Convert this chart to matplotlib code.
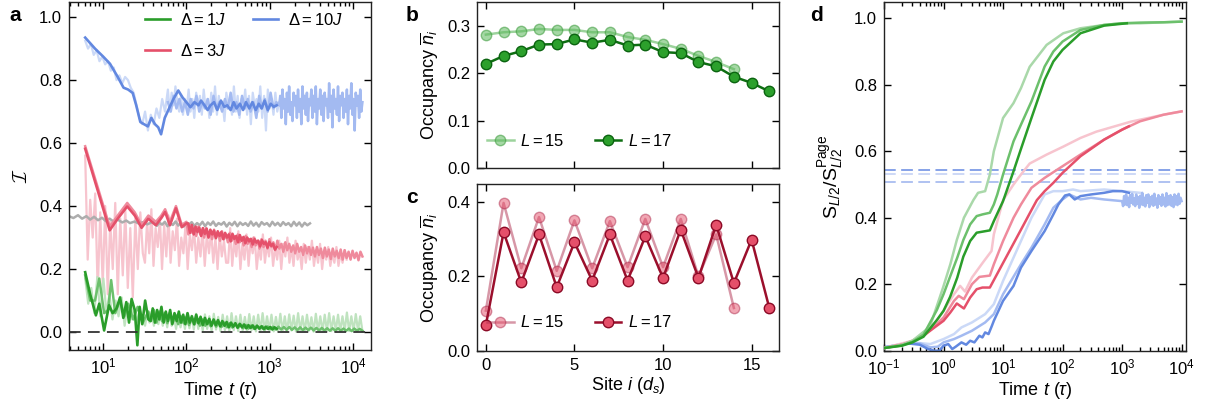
import numpy as np
import matplotlib
matplotlib.use("Agg")
import matplotlib.pyplot as plt
from matplotlib.lines import Line2D

plt.rcParams['font.family'] = ['Liberation Sans', 'DejaVu Sans']
plt.rcParams['mathtext.fontset'] = 'custom'
plt.rcParams['mathtext.rm'] = 'Liberation Sans'
plt.rcParams['mathtext.it'] = 'Liberation Sans:italic'
plt.rcParams['mathtext.bf'] = 'Liberation Sans:bold'
plt.rcParams['axes.linewidth'] = 1.0

# ---------------- panel a : imbalance vs time ----------------
a_gray_t = [3.9, 4.4, 5.0, 5.6, 6.3, 7.0, 7.8, 8.7, 9.7, 10.8, 12, 13.5, 15, 17, 19, 21, 24, 27, 30, 34, 38]
a_gray_v = [0.368, 0.362, 0.371, 0.360, 0.368, 0.357, 0.366, 0.355, 0.363, 0.352, 0.360, 0.350, 0.357,
            0.348, 0.354, 0.346, 0.351, 0.344, 0.349, 0.342, 0.348]
a_gray_tail = [0.340, 0.349, 0.337, 0.347, 0.341, 0.350, 0.336, 0.346, 0.340, 0.351,
               0.338, 0.347, 0.335, 0.348, 0.341, 0.349, 0.337, 0.346, 0.339, 0.350,
               0.336, 0.348, 0.340, 0.351, 0.337, 0.346, 0.341, 0.349, 0.335, 0.347,
               0.339, 0.350, 0.336, 0.348, 0.340, 0.346, 0.337, 0.351, 0.338, 0.347,
               0.335, 0.349, 0.341, 0.346, 0.336, 0.350, 0.339, 0.347, 0.337, 0.349,
               0.340, 0.346, 0.336, 0.350, 0.338, 0.348, 0.335, 0.347, 0.339, 0.345]

a_blue_dark_t = [6.1, 8, 10, 12.1, 15, 17.6, 20, 22.7, 25, 28, 31, 34.5, 38, 42, 46, 49.7, 55, 63, 70, 80,
                 90, 100, 112, 125, 140, 150, 165, 180, 195, 215, 235, 260, 285, 310, 340, 370, 400, 440,
                 480, 520, 570, 620, 680, 740, 800, 870, 950, 1030, 1120, 1216]
a_blue_dark_v = [0.935, 0.90, 0.875, 0.852, 0.81, 0.776, 0.77, 0.759, 0.72, 0.667,
                 0.66, 0.653, 0.68, 0.66, 0.65, 0.628, 0.68, 0.714, 0.74, 0.767,
                 0.745, 0.73, 0.714, 0.73, 0.72, 0.735, 0.72, 0.705, 0.72, 0.73,
                 0.705, 0.735, 0.715, 0.72, 0.705, 0.73, 0.71, 0.725, 0.705, 0.73,
                 0.71, 0.73, 0.705, 0.725, 0.71, 0.735, 0.705, 0.725, 0.715, 0.72]
a_blue_light_early = [0.925, 0.90, 0.915, 0.88, 0.895, 0.86, 0.875, 0.85, 0.86, 0.83,
                      0.84, 0.80, 0.815, 0.79, 0.81, 0.80, 0.775, 0.76, 0.72, 0.68,
                      0.66, 0.70, 0.64, 0.69, 0.66, 0.71, 0.68, 0.74, 0.70, 0.77]
a_blue_light_late = [0.74, 0.70, 0.76, 0.72, 0.78, 0.73, 0.70, 0.75, 0.69, 0.74,
                     0.71, 0.77, 0.70, 0.74, 0.68, 0.76, 0.72, 0.75, 0.69, 0.77,
                     0.71, 0.74, 0.68, 0.76, 0.70, 0.78, 0.69, 0.75, 0.71, 0.73,
                     0.67, 0.76, 0.72, 0.74, 0.69, 0.78, 0.70, 0.75, 0.68, 0.74,
                     0.71, 0.77, 0.69, 0.75, 0.66, 0.76, 0.72, 0.74, 0.70, 0.78,
                     0.68, 0.75, 0.64, 0.77, 0.71, 0.74, 0.69, 0.76, 0.70, 0.73]
a_blue_mid_a = [0.73, 0.70, 0.75, 0.71, 0.74, 0.70, 0.73, 0.69, 0.74, 0.71,
                0.75, 0.70, 0.73, 0.71, 0.74, 0.69, 0.75, 0.71, 0.73, 0.70,
                0.74, 0.71, 0.76, 0.70, 0.73, 0.69, 0.75, 0.71, 0.74, 0.70,
                0.73, 0.68, 0.75, 0.71, 0.74, 0.70, 0.76, 0.71, 0.73, 0.72]
a_blue_mid_b = [0.70, 0.75, 0.68, 0.77, 0.71, 0.74, 0.66, 0.76, 0.70, 0.78,
                0.69, 0.73, 0.67, 0.76, 0.72, 0.75, 0.68, 0.77, 0.70, 0.74,
                0.66, 0.78, 0.71, 0.75, 0.69, 0.76, 0.67, 0.74, 0.72, 0.77,
                0.68, 0.75, 0.70, 0.78, 0.66, 0.74, 0.71, 0.77, 0.69, 0.75,
                0.67, 0.76, 0.72, 0.74, 0.68, 0.79, 0.70, 0.75, 0.65, 0.77,
                0.71, 0.74, 0.69, 0.78, 0.67, 0.75, 0.72, 0.76, 0.68, 0.74,
                0.70, 0.77, 0.66, 0.75, 0.71, 0.79, 0.69, 0.74, 0.64, 0.76,
                0.72, 0.75, 0.68, 0.77, 0.70, 0.73]

a_red_dark_t = [6.1, 12, 15, 19.5, 24, 29, 35, 43, 50, 55.6, 63.5, 75, 88, 100]
a_red_dark_v = [0.582, 0.323, 0.36, 0.399, 0.37, 0.331, 0.36, 0.339, 0.362, 0.381, 0.339, 0.393, 0.333, 0.345]
a_red_dark_tail = [0.325, 0.345, 0.315, 0.340, 0.310, 0.335, 0.318, 0.332, 0.305, 0.330,
                   0.312, 0.328, 0.300, 0.325, 0.310, 0.322, 0.298, 0.320, 0.305, 0.318,
                   0.295, 0.315, 0.300, 0.310, 0.288, 0.312, 0.296, 0.305, 0.285, 0.308,
                   0.290, 0.302, 0.282, 0.300, 0.288, 0.296, 0.278, 0.295, 0.284, 0.290,
                   0.272, 0.292, 0.280, 0.285, 0.268, 0.286, 0.274, 0.280, 0.262, 0.270]
a_red_mid_v = [0.59, 0.335, 0.37, 0.41, 0.38, 0.34, 0.37, 0.35, 0.37, 0.39, 0.35, 0.40, 0.34, 0.35]
a_red_mid_tail = [0.335, 0.31, 0.34, 0.315, 0.33, 0.305, 0.335, 0.31, 0.325, 0.30,
                  0.33, 0.305, 0.32, 0.295, 0.325, 0.30, 0.315, 0.29, 0.32, 0.295,
                  0.31, 0.285, 0.315, 0.29, 0.305, 0.28, 0.31, 0.285, 0.30, 0.275,
                  0.305, 0.28, 0.295, 0.27, 0.30, 0.275, 0.29, 0.265, 0.295, 0.27,
                  0.29, 0.265, 0.295, 0.27, 0.285, 0.26, 0.29, 0.265, 0.28, 0.255,
                  0.285, 0.26, 0.28, 0.255, 0.275, 0.25, 0.28, 0.255, 0.27, 0.245,
                  0.275, 0.25, 0.27, 0.245, 0.268, 0.24, 0.27, 0.245, 0.265, 0.235,
                  0.268, 0.24, 0.262, 0.232, 0.265, 0.24, 0.258, 0.235, 0.262, 0.23,
                  0.26, 0.235, 0.255, 0.23, 0.258, 0.235, 0.252, 0.228, 0.255, 0.24]
a_red_light_early = [0.56, 0.23, 0.42, 0.30, 0.44, 0.13, 0.38, 0.15, 0.40, 0.12,
                     0.35, 0.20, 0.41, 0.12, 0.36, 0.18, 0.39, 0.14, 0.33, 0.11,
                     0.36, 0.20, 0.38, 0.25]
a_red_light_mid = [0.38, 0.22, 0.35, 0.25, 0.39, 0.21, 0.33, 0.27, 0.36, 0.20,
                   0.34, 0.24, 0.37, 0.22, 0.32, 0.26, 0.36, 0.21, 0.30, 0.25,
                   0.34, 0.20, 0.31, 0.26, 0.33, 0.22, 0.30, 0.24, 0.33, 0.21,
                   0.31, 0.25, 0.32, 0.22, 0.30, 0.20, 0.31, 0.24, 0.29, 0.22]
a_red_light_late = [0.30, 0.22, 0.33, 0.21, 0.29, 0.24, 0.32, 0.20, 0.28, 0.23,
                    0.31, 0.21, 0.29, 0.25, 0.30, 0.20, 0.27, 0.23, 0.31, 0.22,
                    0.28, 0.24, 0.30, 0.21, 0.27, 0.23, 0.29, 0.20, 0.28, 0.24,
                    0.30, 0.22, 0.27, 0.21, 0.29, 0.23, 0.26, 0.20, 0.28, 0.22,
                    0.27, 0.23, 0.29, 0.21, 0.26, 0.22, 0.28, 0.20, 0.26, 0.23,
                    0.27, 0.21, 0.25, 0.22, 0.27, 0.21, 0.25, 0.22, 0.26, 0.23]

a_green_dark_t = [6.1, 7.0, 8.2, 9.0, 10.3, 11.8, 13.0, 14.5, 16.0, 17.5, 19.0, 20.5, 22.0, 24.0, 25.8,
                  27.5, 29.5, 32.0, 35.0]
a_green_dark_v = [0.190, 0.120, 0.053, 0.090, 0.005, 0.085, 0.060, 0.075, 0.110, 0.045, 0.095, 0.030,
                  0.105, 0.070, -0.042, 0.080, 0.025, 0.100, 0.040]
a_green_dark_tail = [0.085, 0.035, 0.075, 0.030, 0.070, 0.040, 0.080, 0.030, 0.065, 0.035,
                     0.070, 0.025, 0.060, 0.035, 0.065, 0.030, 0.055, 0.025, 0.060, 0.030,
                     0.050, 0.025, 0.055, 0.028, 0.048, 0.022, 0.045, 0.025, 0.042, 0.020,
                     0.040, 0.022, 0.038, 0.018, 0.035, 0.020, 0.032, 0.015, 0.030, 0.017,
                     0.028, 0.014, 0.026, 0.015, 0.024, 0.012, 0.022, 0.013, 0.021, 0.010,
                     0.020, 0.011, 0.018, 0.009, 0.017, 0.010, 0.016, 0.008, 0.015, 0.010]
a_green_mid_t = [6.1, 7, 8, 9, 10.3, 11.5, 12.5, 14, 16, 18, 20, 23, 26, 30, 35]
a_green_mid_v = [0.18, 0.10, 0.10, 0.17, 0.06, 0.07, 0.165, 0.06, 0.10, 0.05, 0.09, 0.04, 0.08, 0.03, 0.065]
a_green_mid_tail = [0.075, 0.035, 0.07, 0.03, 0.065, 0.035, 0.06, 0.028, 0.062, 0.03,
                    0.055, 0.025, 0.05, 0.028, 0.048, 0.022, 0.045, 0.024, 0.042, 0.02,
                    0.04, 0.02, 0.036, 0.018, 0.034, 0.017, 0.032, 0.016, 0.03, 0.015,
                    0.028, 0.014, 0.026, 0.013, 0.024, 0.012, 0.022, 0.011, 0.021, 0.01,
                    0.02, 0.01, 0.019, 0.009, 0.018, 0.009, 0.017, 0.008, 0.017, 0.008,
                    0.016, 0.007, 0.016, 0.007, 0.015, 0.006, 0.015, 0.006, 0.014, 0.006,
                    0.014, 0.005, 0.013, 0.005, 0.013, 0.005, 0.012, 0.004, 0.012, 0.004,
                    0.012, 0.004, 0.011, 0.004, 0.011, 0.003, 0.011, 0.004, 0.01, 0.004]
a_green_light_early = [0.17, 0.09, 0.14, 0.06, 0.175, 0.05, 0.17, 0.06, 0.12, 0.04,
                       0.10, 0.05, 0.11, 0.02, 0.09, 0.04, 0.08, 0.03, 0.07, 0.04]
a_green_light_tail = [0.07, 0.02, 0.06, 0.03, 0.065, 0.02, 0.055, 0.025, 0.06, 0.02,
                      0.055, 0.015, 0.06, 0.02, 0.05, 0.01, 0.058, 0.015, 0.05, 0.01,
                      0.06, 0.012, 0.052, 0.008, 0.058, 0.01, 0.05, 0.005, 0.056, 0.01,
                      0.05, 0.004, 0.058, 0.008, 0.048, 0.003, 0.055, 0.006, 0.05, 0.002,
                      0.06, 0.006, 0.05, 0.003, 0.055, 0.005, 0.048, 0.002, 0.057, 0.006,
                      0.05, 0.002, 0.055, 0.004, 0.06, 0.003, 0.05, 0.005, 0.055, 0.002,
                      0.048, 0.004, 0.058, 0.003, 0.05, 0.002, 0.056, 0.005, 0.052, 0.002,
                      0.06, 0.004, 0.05, 0.002, 0.055, 0.005, 0.047, 0.001, 0.058, 0.004,
                      0.05, 0.002, 0.055, 0.004, 0.06, 0.003, 0.05, 0.005, 0.055, 0.002,
                      0.05, 0.004, 0.062, 0.003, 0.05, 0.002, 0.057, 0.005, 0.05, 0.003]

# ---------------- panels b, c : site occupancies ----------------
sites_15 = list(range(15))
sites_17 = list(range(17))
b_n15 = [0.282, 0.287, 0.289, 0.294, 0.292, 0.292, 0.287, 0.287, 0.277, 0.271, 0.262, 0.252, 0.237, 0.224, 0.209]
b_n17 = [0.220, 0.237, 0.247, 0.261, 0.262, 0.272, 0.265, 0.271, 0.259, 0.261, 0.245, 0.243, 0.224, 0.215,
         0.193, 0.180, 0.162]
c_n15 = [0.108, 0.398, 0.222, 0.360, 0.215, 0.351, 0.222, 0.349, 0.225, 0.355, 0.225, 0.355, 0.200, 0.313, 0.115]
c_n17 = [0.069, 0.319, 0.184, 0.313, 0.171, 0.292, 0.189, 0.313, 0.189, 0.308, 0.196, 0.326, 0.196, 0.339,
         0.182, 0.299, 0.115]

# ---------------- panel d : entanglement entropy ----------------
d_green_dark_t = [0.1, 0.2, 0.3, 0.46, 0.77, 1.0, 1.29, 1.7, 2.15, 2.8, 3.6, 6.0, 7.0, 10, 15, 20, 30, 50, 70,
                  100, 200, 500, 1200]
d_green_dark_s = [0.008, 0.015, 0.025, 0.042, 0.092, 0.12, 0.162, 0.22, 0.283, 0.33, 0.355, 0.362, 0.39, 0.45,
                  0.54, 0.607, 0.70, 0.815, 0.87, 0.905, 0.955, 0.978, 0.985]
d_green_mid_t = [0.1, 0.2, 0.3, 0.46, 0.77, 1.0, 1.29, 1.7, 2.15, 2.8, 3.6, 4.5, 6.0, 7.0, 8.0, 10, 15, 20, 30,
                 50, 70, 100, 200, 500, 1000, 2000, 5000, 10000]
d_green_mid_s = [0.008, 0.016, 0.027, 0.048, 0.122, 0.17, 0.223, 0.28, 0.333, 0.38, 0.405, 0.41, 0.415, 0.44,
                 0.47, 0.53, 0.63, 0.68, 0.75, 0.855, 0.90, 0.93, 0.965, 0.98, 0.985, 0.987, 0.988, 0.99]
d_green_light_t = [0.1, 0.2, 0.3, 0.59, 0.99, 1.3, 1.67, 2.2, 3.17, 3.8, 5.0, 6.0, 7.0, 10, 15, 20, 28, 54, 103,
                   200, 500, 1000, 2000, 5000, 10000]
d_green_light_s = [0.008, 0.018, 0.03, 0.072, 0.192, 0.26, 0.333, 0.40, 0.453, 0.475, 0.48, 0.53, 0.60, 0.70,
                   0.745, 0.79, 0.854, 0.92, 0.955, 0.97, 0.98, 0.985, 0.985, 0.988, 0.99]

d_red_dark_t = [0.1, 0.2, 0.3, 0.46, 0.77, 1.0, 1.3, 1.67, 2.2, 2.8, 3.6, 4.5, 6.0, 10, 20, 30, 37, 50, 70, 100,
                200, 500, 1000, 1300]
d_red_dark_s = [0.008, 0.018, 0.028, 0.045, 0.075, 0.09, 0.115, 0.142, 0.127, 0.16, 0.185, 0.19, 0.19, 0.264,
                0.364, 0.423, 0.453, 0.48, 0.505, 0.535, 0.585, 0.635, 0.665, 0.675]
d_red_mid_t = [0.1, 0.2, 0.3, 0.5, 0.77, 1.0, 1.5, 1.8, 2.2, 3.0, 4.0, 6.0, 7.0, 10, 15, 20, 30, 50, 100, 200,
               500, 1000, 2000, 5000, 10000]
d_red_mid_s = [0.008, 0.018, 0.03, 0.05, 0.08, 0.10, 0.15, 0.165, 0.155, 0.20, 0.222, 0.226, 0.26, 0.33, 0.40,
               0.44, 0.49, 0.52, 0.555, 0.59, 0.635, 0.665, 0.69, 0.71, 0.72]
d_red_light_t = [0.1, 0.3, 0.5, 0.77, 1.0, 1.5, 1.9, 2.3, 3.0, 4.7, 6.4, 7.0, 10, 15, 20, 28, 54, 103, 200, 370,
                 1400, 5000, 10000]
d_red_light_s = [0.008, 0.03, 0.055, 0.09, 0.12, 0.17, 0.195, 0.178, 0.22, 0.268, 0.30, 0.35, 0.453, 0.50, 0.53,
                 0.563, 0.59, 0.614, 0.64, 0.659, 0.689, 0.71, 0.72]

d_blue_dark_t = [0.1, 0.15, 0.25, 0.4, 0.55, 0.7, 0.85, 1.0, 1.2, 1.4, 1.6, 2.0, 2.4, 2.8, 3.3, 4.0, 4.5, 5.0,
                 5.7, 6.5, 7.0, 10, 15, 20, 30, 50, 70, 85, 110, 130, 160, 200, 300, 500, 700, 1000, 1300]
d_blue_dark_s = [0.01, 0.015, 0.022, 0.018, 0.005, 0.0, 0.0, 0.015, 0.02, 0.005, 0.012, 0.025, 0.018, 0.03,
                 0.025, 0.045, 0.04, 0.055, 0.05, 0.075, 0.09, 0.15, 0.195, 0.25, 0.30, 0.36, 0.41, 0.44,
                 0.467, 0.47, 0.455, 0.465, 0.47, 0.475, 0.48, 0.48, 0.475]
d_blue_mid_t = [0.1, 0.2, 0.4, 0.6, 0.8, 1.0, 1.5, 2.0, 3.0, 5.0, 7.0, 10, 20, 30, 50, 70, 100, 130, 200, 300,
                500, 1000]
d_blue_mid_s = [0.01, 0.02, 0.022, 0.01, 0.012, 0.025, 0.035, 0.045, 0.06, 0.085, 0.11, 0.17, 0.26, 0.31, 0.38,
                0.43, 0.455, 0.47, 0.455, 0.46, 0.455, 0.45]
d_blue_mid_tail = [0.45, 0.435, 0.465, 0.44, 0.47, 0.438, 0.46, 0.432, 0.468, 0.445,
                   0.472, 0.44, 0.458, 0.435, 0.47, 0.442, 0.462, 0.43, 0.466, 0.44,
                   0.475, 0.438, 0.46, 0.434, 0.468, 0.445, 0.47, 0.432, 0.462, 0.44,
                   0.466, 0.436, 0.472, 0.44, 0.458, 0.43, 0.468, 0.442, 0.462, 0.436,
                   0.47, 0.44, 0.46, 0.434, 0.474, 0.438, 0.465, 0.44, 0.468, 0.436,
                   0.462, 0.432, 0.47, 0.44, 0.465, 0.438, 0.472, 0.442, 0.46, 0.45]
d_blue_light_t = [0.1, 0.3, 0.6, 1.0, 1.5, 2.0, 3.0, 5.0, 7.0, 10, 20, 30, 50, 70, 100, 150, 200, 500, 1000, 2000]
d_blue_light_s = [0.01, 0.025, 0.02, 0.035, 0.05, 0.07, 0.085, 0.11, 0.14, 0.21, 0.33, 0.40, 0.47, 0.48, 0.48,
                  0.485, 0.48, 0.485, 0.48, 0.475]
d_page_levels = [0.544, 0.532, 0.507]

GREEN = ['#bfe3bf', '#6cc06c', '#2a9d2a']
RED = ['#f7c4ce', '#ef8a9c', '#e5506a']
BLUE = ['#cbd9f7', '#a3baf1', '#6288e0']


def geo(t0, t1, vals):
    # sample times evenly in log t between read-off end points
    return np.geomspace(t0, t1, len(vals))


def style(ax):
    ax.tick_params(which='both', direction='in', top=True, right=True, labelsize=12, width=1)
    ax.tick_params(which='major', length=5, pad=5)
    ax.tick_params(which='minor', length=3)
    for s in ax.spines.values():
        s.set_color('#222222')


fig = plt.figure(figsize=(12.15, 4.18), dpi=100)
ax_a = fig.add_axes([0.0568, 0.1627, 0.2486, 0.8325])
ax_b = fig.add_axes([0.3926, 0.5981, 0.2486, 0.3971])
ax_c = fig.add_axes([0.3926, 0.1610, 0.2486, 0.3988])
ax_d = fig.add_axes([0.7276, 0.1610, 0.2486, 0.8342])

# ---- a
ax = ax_a
ax.plot(np.r_[geo(6.1, 30, a_red_light_early), geo(30, 300, a_red_light_mid)[1:], geo(300, 8400, a_red_light_late)[1:]],
        a_red_light_early + a_red_light_mid[1:] + a_red_light_late[1:], color=RED[0], lw=1.6, zorder=1)
ax.plot(np.r_[geo(6.1, 30, a_green_light_early), geo(30, 13000, a_green_light_tail)[1:]],
        a_green_light_early + a_green_light_tail[1:], color=GREEN[0], lw=1.6, zorder=1)
ax.plot(np.r_[geo(6.1, 60, a_blue_light_early), geo(60, 1300, a_blue_light_late)[1:]],
        a_blue_light_early + a_blue_light_late[1:], color=BLUE[0], lw=1.6, zorder=1)
ax.plot(np.r_[a_gray_t, geo(38, 3050, a_gray_tail)[1:]], a_gray_v + a_gray_tail[1:],
        color='#adadad', lw=1.8, zorder=2)
ax.plot(np.r_[a_red_dark_t, geo(100, 13000, a_red_mid_tail)[1:]], a_red_mid_v + a_red_mid_tail[1:],
        color=RED[1], lw=1.8, zorder=3)
ax.plot(np.r_[a_green_mid_t, geo(35, 13000, a_green_mid_tail)[1:]], a_green_mid_v + a_green_mid_tail[1:],
        color=GREEN[1], lw=1.8, zorder=3)
ax.plot(np.r_[geo(60, 1300, a_blue_mid_a), geo(1300, 13000, a_blue_mid_b)[1:]],
        a_blue_mid_a + a_blue_mid_b[1:], color=BLUE[1], lw=1.8, zorder=3)
ax.plot(np.r_[a_red_dark_t, geo(100, 1216, a_red_dark_tail)[1:]], a_red_dark_v + a_red_dark_tail[1:],
        color=RED[2], lw=1.9, zorder=4)
ax.plot(np.r_[a_green_dark_t, geo(35, 1216, a_green_dark_tail)[1:]], a_green_dark_v + a_green_dark_tail[1:],
        color=GREEN[2], lw=1.9, zorder=4)
ax.plot(a_blue_dark_t, a_blue_dark_v, color=BLUE[2], lw=1.9, zorder=4)
ax.axhline(0, color='#333333', lw=1.3, dashes=(6.5, 4), zorder=5)
ax.set_xscale('log')
ax.set_xlim(3.9, 1.65e4)
ax.set_ylim(-0.057, 1.048)
ax.set_yticks([0, 0.2, 0.4, 0.6, 0.8, 1.0])
ax.set_xticks([10, 100, 1000, 10000])
ax.set_xlabel(r'Time $t$ ($\tau$)', fontsize=13, labelpad=2)
ax.set_ylabel(r'$\mathcal{I}$', fontsize=14, math_fontfamily='cm', labelpad=6)
style(ax)
handles = [Line2D([], [], color=GREEN[2], lw=1.9), Line2D([], [], color=RED[2], lw=1.9),
           Line2D([], [], color=BLUE[2], lw=1.9)]
ax.legend(handles, [r'$\Delta=1J$', r'$\Delta=3J$', r'$\Delta=10J$'], ncol=2, loc='upper left',
          bbox_to_anchor=(0.22, 1.0), frameon=False, fontsize=12, handlelength=1.5, handletextpad=0.6,
          columnspacing=1.6, labelspacing=0.9, borderaxespad=0.2)

# ---- b
ax = ax_b
ax.plot(sites_15, b_n15, '-o', color='#4caf4c', mfc='#5cb85c', mec='#3a9a3a', ms=7.5, lw=1.8, alpha=0.55,
        label=r'$L=15$')
ax.plot(sites_17, b_n17, '-o', color='#0e6e12', mfc='#2ca02c', mec='#0b6410', ms=7.5, lw=1.8, mew=1.0,
        label=r'$L=17$')
ax.set_xlim(-0.5, 16.55)
ax.set_ylim(0, 0.351)
ax.set_xticks([0, 5, 10, 15])
ax.set_xticklabels([])
ax.set_yticks([0, 0.1, 0.2, 0.3])
ax.set_ylabel(r'Occupancy $\overline{n}_i$', fontsize=13, labelpad=4)
style(ax)
ax.legend(ncol=2, loc='center left', bbox_to_anchor=(0.0, 0.165), frameon=False, fontsize=12,
          handlelength=1.6, handletextpad=0.4, columnspacing=1.8, borderaxespad=0.2)

# ---- c
ax = ax_c
ax.plot(sites_15, c_n15, '-o', color='#b03050', mfc='#e5506a', mec='#b03050', ms=7.5, lw=1.8, alpha=0.5,
        label=r'$L=15$')
ax.plot(sites_17, c_n17, '-o', color='#9b0f2c', mfc='#e5506a', mec='#8b0a26', ms=7.5, lw=1.8, mew=1.0,
        label=r'$L=17$')
ax.set_xlim(-0.5, 16.55)
ax.set_ylim(0, 0.449)
ax.set_xticks([0, 5, 10, 15])
ax.set_yticks([0, 0.2, 0.4])
ax.set_ylabel(r'Occupancy $\overline{n}_i$', fontsize=13, labelpad=4)
ax.set_xlabel(r'Site $i$ ($d_s$)', fontsize=13, labelpad=2)
style(ax)
ax.legend(ncol=2, loc='center left', bbox_to_anchor=(0.0, 0.17), frameon=False, fontsize=12,
          handlelength=1.6, handletextpad=0.4, columnspacing=1.8, borderaxespad=0.2)

# ---- d
ax = ax_d
for lvl, c in zip(d_page_levels, ['#7d9be6', '#c9d6f6', '#a9bdf0']):
    ax.axhline(lvl, color=c, lw=1.3, dashes=(6.5, 3), zorder=1)
ax.plot(d_blue_light_t, d_blue_light_s, color=BLUE[0], lw=1.8, zorder=2)
ax.plot(np.r_[d_blue_mid_t, geo(1000, 10000, d_blue_mid_tail)[1:]], d_blue_mid_s + d_blue_mid_tail[1:],
        color=BLUE[1], lw=1.8, zorder=2)
ax.plot(d_blue_dark_t, d_blue_dark_s, color=BLUE[2], lw=1.8, zorder=2)
ax.plot(d_red_light_t, d_red_light_s, color=RED[0], lw=1.8, zorder=3)
ax.plot(d_red_mid_t, d_red_mid_s, color=RED[1], lw=1.8, zorder=3)
ax.plot(d_red_dark_t, d_red_dark_s, color=RED[2], lw=1.8, zorder=3)
ax.plot(d_green_light_t, d_green_light_s, color='#a9d8a9', lw=1.8, zorder=4)
ax.plot(d_green_mid_t, d_green_mid_s, color=GREEN[1], lw=1.8, zorder=4)
ax.plot(d_green_dark_t, d_green_dark_s, color=GREEN[2], lw=1.8, zorder=4)
ax.set_xscale('log')
ax.set_xlim(0.1, 1.19e4)
ax.set_ylim(0, 1.049)
ax.set_yticks([0, 0.2, 0.4, 0.6, 0.8, 1.0])
ax.set_xticks([0.1, 1, 10, 100, 1000, 10000])
ax.set_xlabel(r'Time $t$ ($\tau$)', fontsize=13, labelpad=2)
ax.set_ylabel(r'$\mathrm{S}_{L/2}/\mathrm{S}_{L/2}^{\mathrm{Page}}$', fontsize=14, labelpad=6)
style(ax)

for x, y, s in [(0.008, 0.962, 'a'), (0.334, 0.962, 'b'), (0.334, 0.527, 'c'), (0.667, 0.962, 'd')]:
    fig.text(x, y, s, fontsize=15, fontweight='bold', va='center')

fig.savefig('out.png', dpi=100)
